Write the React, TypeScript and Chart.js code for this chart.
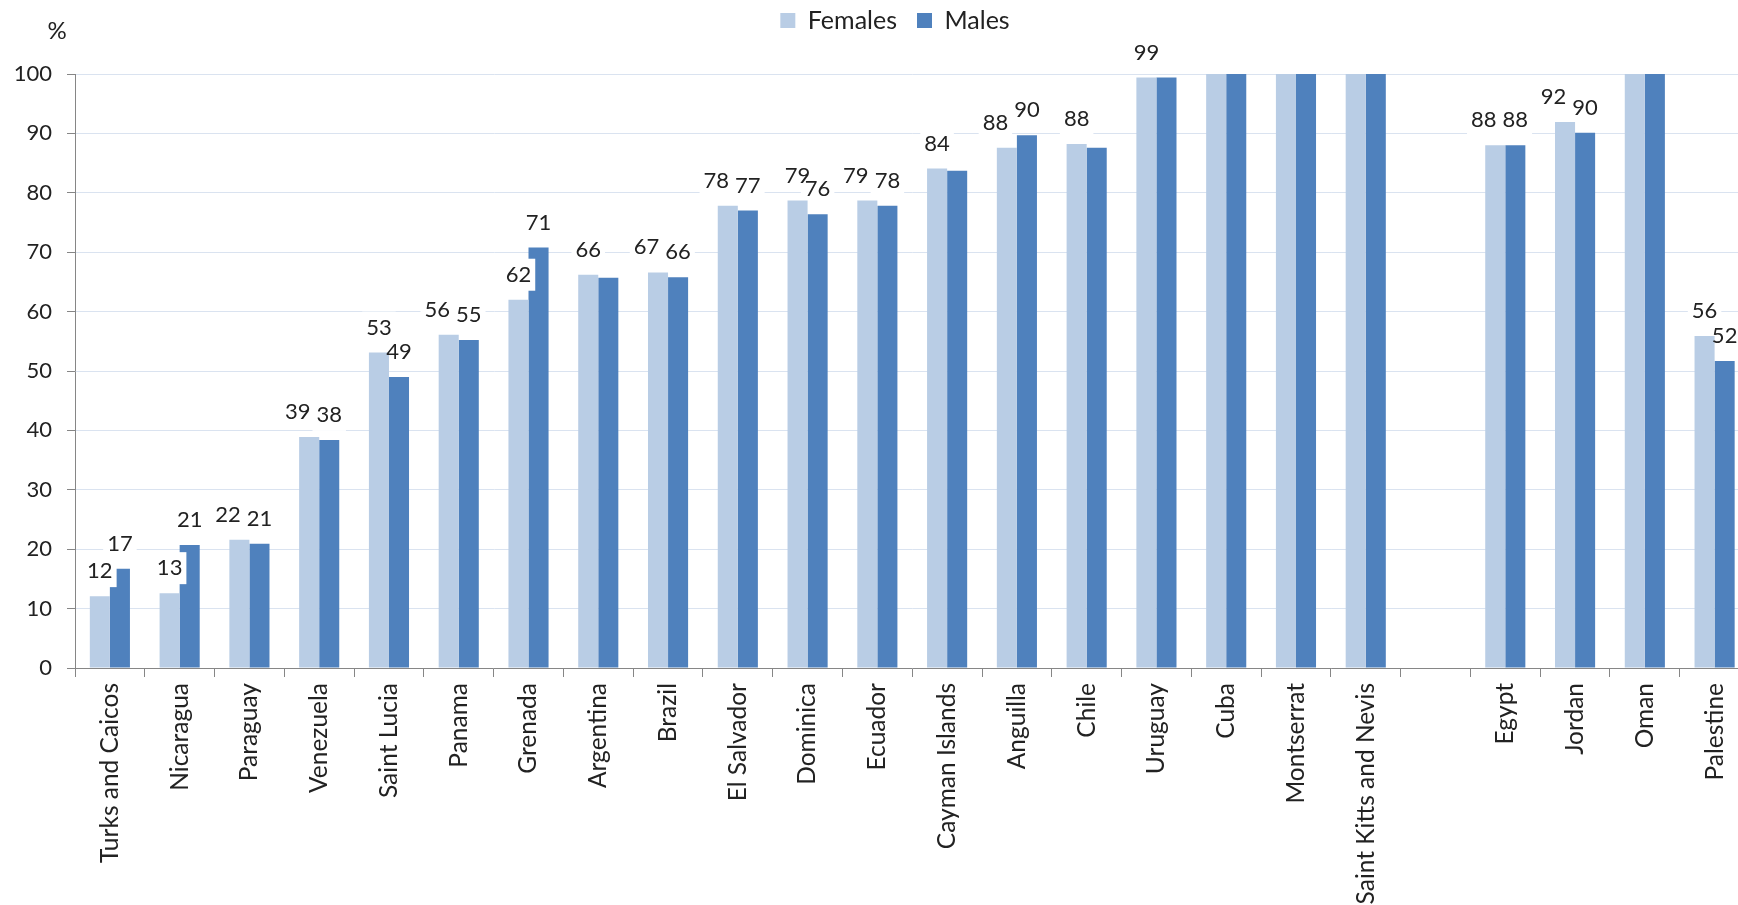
import React, { useEffect, useRef } from "react";
import { Chart, registerables } from "chart.js";

Chart.register(...registerables);

const categories = [
  "Turks and Caicos", "Nicaragua", "Paraguay", "Venezuela", "Saint Lucia", "Panama",
  "Grenada", "Argentina", "Brazil", "El Salvador", "Dominica", "Ecuador",
  "Cayman Islands", "Anguilla", "Chile", "Uruguay", "Cuba", "Montserrat",
  "Saint Kitts and Nevis", "", "Egypt", "Jordan", "Oman", "Palestine",
];

const females = [12.1, 12.6, 21.6, 38.9, 53.1, 56.1, 62.0, 66.2, 66.6, 77.8, 78.7, 78.7, 84.1, 87.6, 88.2, 99.4, 100, 100, 100, null, 88.0, 91.9, 100, 55.9];
const males = [16.7, 20.7, 20.9, 38.4, 49.0, 55.2, 70.8, 65.7, 65.8, 77.0, 76.4, 77.8, 83.7, 89.7, 87.6, 99.4, 100, 100, 100, null, 88.0, 90.1, 100, 51.7];

const yMin = 0;
const yMax = 100;
const yStep = 10;

const hiddenFemaleLabels = ["Cuba", "Montserrat", "Saint Kitts and Nevis", "Oman"];
const hiddenMaleLabels = ["Argentina", "Cayman Islands", "Chile", "Uruguay", "Cuba", "Montserrat", "Saint Kitts and Nevis", "Oman"];

const FONT = "Lato";
const TEXT = "#222222";
const AXIS = "#868686";
const GRID = "#DAE3F0";
const FEMALE_COLOR = "#B9CDE5";
const MALE_COLOR = "#4F81BD";

const PLOT_TOP = 74;
const TOP_SHIFT = 12;
const PLOT_BOTTOM_GAP = 237;
const Y_AXIS_WIDTH = 75;
const LABEL_SIZE = 22;
const LABEL_OFFSET = 25;

const legendFitPlugin = {
  id: "legendFit",
  beforeInit(chart: any) {
    const legend = chart.legend;
    if (!legend) return;
    const orig = legend.fit;
    legend.fit = function () {
      orig.call(this);
      this.height = PLOT_TOP + TOP_SHIFT;
      if (this.lineWidths && this.lineWidths.length) this.lineWidths[0] -= 40;
    };
  },
};

function collectLabels(chart: any) {
  const ctx = chart.ctx;
  ctx.save();
  ctx.font = `${LABEL_SIZE}px ${FONT}`;
  const f: any[] = [];
  const m: any[] = [];
  chart.data.datasets.forEach((ds: any, di: number) => {
    const meta = chart.getDatasetMeta(di);
    const hidden = di === 0 ? hiddenFemaleLabels : hiddenMaleLabels;
    const out = di === 0 ? f : m;
    meta.data.forEach((bar: any, i: number) => {
      const v = ds.data[i];
      if (v == null || hidden.includes(categories[i])) { out[i] = null; return; }
      const text = String(Math.round(v));
      const p = bar.getProps(["x", "y"], true);
      out[i] = { text, x: p.x, y: p.y - LABEL_OFFSET, w: ctx.measureText(text).width };
    });
  });
  // simple overlap avoidance: push the female label left when it collides with the male one
  f.forEach((a, i) => {
    const b = m[i];
    if (!a || !b) return;
    if (Math.abs(a.y - b.y) < 13) {
      const gap = 6;
      const need = a.x + a.w / 2 + gap - (b.x - b.w / 2);
      if (need > 0) a.x -= need;
    }
  });
  ctx.restore();
  return { f: f.filter(Boolean), m: m.filter(Boolean) };
}

function drawBoxes(ctx: any, items: any[]) {
  ctx.fillStyle = "#ffffff";
  items.forEach((it) => {
    ctx.fillRect(it.x - it.w / 2 - 4, it.y - 16, it.w + 8, 32);
  });
}

const labelPlugin = {
  id: "barLabels",
  beforeDatasetsDraw(chart: any) {
    const { m } = collectLabels(chart);
    const ctx = chart.ctx;
    ctx.save();
    drawBoxes(ctx, m);
    ctx.restore();
  },
  afterDatasetsDraw(chart: any) {
    const { f, m } = collectLabels(chart);
    const ctx = chart.ctx;
    ctx.save();
    drawBoxes(ctx, f);
    ctx.font = `${LABEL_SIZE}px ${FONT}`;
    ctx.fillStyle = TEXT;
    ctx.textAlign = "center";
    ctx.textBaseline = "middle";
    [...f, ...m].forEach((it) => ctx.fillText(it.text, it.x, it.y));
    ctx.restore();
  },
  afterDraw(chart: any) {
    const ctx = chart.ctx;
    const area = chart.chartArea;
    ctx.save();
    ctx.font = `24px ${FONT}`;
    ctx.fillStyle = TEXT;
    ctx.textAlign = "center";
    ctx.textBaseline = "middle";
    ctx.fillText("%", area.left - 18, area.top - 43);
    ctx.restore();
  },
};

export default function App() {
  const ref = useRef<HTMLCanvasElement | null>(null);

  useEffect(() => {
    if (!ref.current) return;
    const chart = new Chart(ref.current, {
      type: "bar",
      data: {
        labels: categories,
        datasets: [
          { label: "Females", data: females, backgroundColor: FEMALE_COLOR, borderWidth: 0 },
          { label: "Males", data: males, backgroundColor: MALE_COLOR, borderWidth: 0 },
        ],
      },
      options: {
        animation: false,
        responsive: true,
        maintainAspectRatio: false,
        layout: { padding: { top: -TOP_SHIFT, left: 0, right: 0, bottom: 0 } },
        datasets: { bar: { categoryPercentage: 0.575, barPercentage: 1.0 } },
        plugins: {
          legend: {
            position: "top",
            align: "center",
            labels: {
              boxWidth: 15,
              boxHeight: 15,
              padding: 20,
              color: TEXT,
              font: { family: FONT, size: 25 },
            },
          },
          tooltip: { enabled: false },
          title: { display: false },
        },
        scales: {
          x: {
            grid: {
              display: true,
              drawOnChartArea: false,
              drawTicks: true,
              tickLength: 9,
              tickColor: AXIS,
              offset: true,
            },
            border: { display: true, color: AXIS, width: 1 },
            ticks: {
              autoSkip: false,
              maxRotation: 90,
              minRotation: 90,
              padding: 6,
              color: TEXT,
              font: { family: FONT, size: 24.5 },
            },
            afterFit: (scale: any) => {
              scale.height = PLOT_BOTTOM_GAP;
            },
          },
          y: {
            min: yMin,
            max: yMax,
            ticks: {
              stepSize: yStep,
              padding: 15,
              color: TEXT,
              font: { family: FONT, size: 22 },
            },
            grid: {
              color: GRID,
              tickColor: AXIS,
              tickLength: 8,
              drawTicks: true,
            },
            border: { display: true, color: AXIS, width: 1 },
            afterFit: (scale: any) => {
              scale.width = Y_AXIS_WIDTH;
            },
          },
        },
      },
      plugins: [legendFitPlugin, labelPlugin],
    } as any);
    return () => chart.destroy();
  }, []);

  return (
    <div
      style={{
        position: "fixed",
        left: 0,
        top: 0,
        width: 1738,
        height: 905,
        overflow: "hidden",
        background: "#ffffff",
      }}
    >
      <div style={{ position: "relative", width: 1750, height: 905 }}>
        <canvas ref={ref} />
      </div>
    </div>
  );
}
